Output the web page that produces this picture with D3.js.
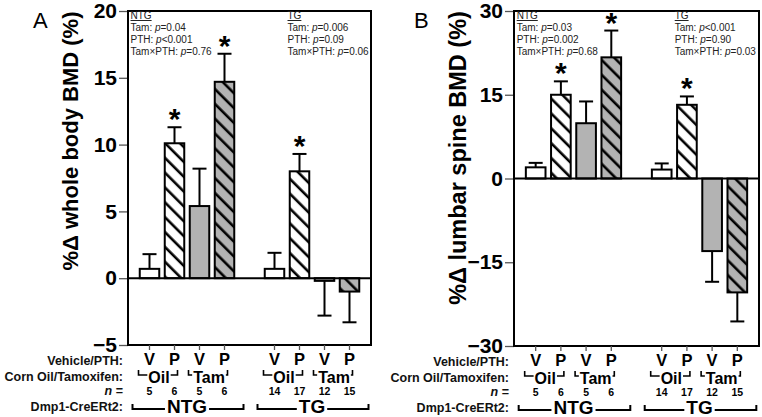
<!DOCTYPE html>
<html>
<head>
<meta charset="utf-8">
<script src="https://cdn.jsdelivr.net/npm/d3@7"></script>
<style>
  body { margin: 0; background: #fff; }
  svg { font-family: "Liberation Sans", Arial, sans-serif; }
</style>
</head>
<body>
<svg id="chart" width="762" height="417"></svg>
<script>
// bar slots (one empty slot between NTG and TG)
const slots = ["NTG-Oil-V", "NTG-Oil-P", "NTG-Tam-V", "NTG-Tam-P", "gap",
               "TG-Oil-V", "TG-Oil-P", "TG-Tam-V", "TG-Tam-P"];
const bars = slots.filter(s => s !== "gap");
const treatment = ["V", "P", "V", "P", "V", "P", "V", "P"];
const nCounts = [5, 6, 5, 6, 14, 17, 12, 15];
const oilTam = [["Oil", 0, 1], ["Tam", 2, 3], ["Oil", 4, 5], ["Tam", 6, 7]];
const genotype = [["NTG", 0, 3], ["TG", 4, 7]];

// whole body BMD (%) mean and error
const wholeMean = [0.7, 10.1, 5.4, 14.7, 0.7, 8.0, -0.2, -1.0];
const wholeErr  = [1.1, 1.2, 2.8, 2.1, 1.2, 1.3, 2.6, 2.3];
const wholeSig  = [0, 1, 0, 1, 0, 1, 0, 0];
const wholeTicks = [-5, 0, 5, 10, 15, 20];

// lumbar spine BMD (%) mean and error
const lumbarMean = [2.0, 15.0, 9.9, 21.7, 1.6, 13.2, -13.0, -20.4];
const lumbarErr  = [0.8, 2.4, 3.9, 4.8, 1.1, 1.5, 5.5, 5.2];
const lumbarSig  = [0, 1, 0, 1, 0, 1, 0, 0];
const lumbarTicks = [-30, -15, 0, 15, 30];

// stats text: [label, p value part]
const wholeNTG = [["Tam:", "=0.04"], ["PTH:", "<0.001"], ["Tam\u00d7PTH:", "=0.76"]];
const wholeTG  = [["Tam:", "=0.006"], ["PTH:", "=0.09"], ["Tam\u00d7PTH:", "=0.06"]];
const lumbarNTG = [["Tam:", "=0.03"], ["PTH:", "=0.002"], ["Tam\u00d7PTH:", "=0.68"]];
const lumbarTG  = [["Tam:", "<0.001"], ["PTH:", "=0.90"], ["Tam\u00d7PTH:", "=0.03"]];

const rowLabels = ["Vehicle/PTH:", "Corn Oil/Tamoxifen:", "n =", "Dmp1-CreERt2:"];

const svg = d3.select("#chart");

// hatch pattern ("\" stripes)
const defs = svg.append("defs");
["#fff", "#b3b3b3"].forEach((c, i) => {
  const p = defs.append("pattern")
    .attr("id", "hatch" + i)
    .attr("patternUnits", "userSpaceOnUse")
    .attr("width", 10.5).attr("height", 10.5)
    .attr("patternTransform", "rotate(-45)");
  p.append("rect").attr("width", 10.5).attr("height", 10.5).attr("fill", c);
  p.append("line").attr("x1", 5).attr("x2", 5).attr("y1", 0).attr("y2", 10.5)
    .attr("stroke", "#000").attr("stroke-width", 2.6);
});

function drawPanel(cfg) {
  const g = svg.append("g");
  const x = d3.scaleBand().domain(slots)
    .range([cfg.left, cfg.right]).paddingInner(0.22).paddingOuter(0.47);
  const y = d3.scaleLinear().domain(cfg.domain).range([cfg.bottom, cfg.top]);
  const cx = i => x(bars[i]) + x.bandwidth() / 2;

  // panel letter
  g.append("text").attr("x", cfg.letterX).attr("y", 28)
    .attr("font-size", 22).text(cfg.letter);

  // y axis
  const ax = g.append("g").attr("transform", `translate(${cfg.left},0)`)
    .call(d3.axisLeft(y).tickValues(cfg.ticks).tickSize(9).tickPadding(2));
  ax.select(".domain").remove();
  ax.selectAll(".tick line").attr("stroke", "#555").attr("stroke-width", 1.3);
  ax.selectAll(".tick text").attr("font-size", 21).attr("font-weight", "bold")
    .attr("fill", "#000").attr("font-family", "Liberation Sans, Arial, sans-serif");

  g.append("text")
    .attr("transform", `translate(${cfg.titleX},${cfg.titleY}) rotate(-90)`)
    .attr("text-anchor", "middle").attr("font-size", cfg.titleSize).attr("font-weight", "bold")
    .text(cfg.title);

  // error bars
  const eg = g.append("g").attr("stroke", "#000").attr("stroke-width", 2);
  cfg.mean.forEach((m, i) => {
    const end = m >= 0 ? m + cfg.err[i] : m - cfg.err[i];
    eg.append("line").attr("x1", cx(i)).attr("x2", cx(i)).attr("y1", y(m)).attr("y2", y(end));
    eg.append("line").attr("x1", cx(i) - 7).attr("x2", cx(i) + 7).attr("y1", y(end)).attr("y2", y(end));
    if (cfg.sig[i]) {
      g.append("text").attr("x", cx(i)).attr("y", y(end) + 2)
        .attr("text-anchor", "middle").attr("font-size", 30).attr("font-weight", "bold")
        .text("*");
    }
  });

  // bars
  g.selectAll("rect.bar").data(cfg.mean).enter().append("rect")
    .attr("class", "bar")
    .attr("x", (d, i) => x(bars[i]))
    .attr("width", x.bandwidth())
    .attr("y", d => y(Math.max(0, d)))
    .attr("height", d => Math.abs(y(d) - y(0)))
    .attr("fill", (d, i) => {
      const tam = bars[i].includes("Tam");
      if (treatment[i] === "P") return tam ? "url(#hatch1)" : "url(#hatch0)";
      return tam ? "#b3b3b3" : "#fff";
    })
    .attr("stroke", "#000").attr("stroke-width", 2);

  // zero line and frame
  g.append("line").attr("x1", cfg.left).attr("x2", cfg.right)
    .attr("y1", y(0)).attr("y2", y(0)).attr("stroke", "#000").attr("stroke-width", 2);
  g.append("rect").attr("x", cfg.left).attr("y", cfg.top)
    .attr("width", cfg.right - cfg.left).attr("height", cfg.bottom - cfg.top)
    .attr("fill", "none").attr("stroke", "#000").attr("stroke-width", 2);

  // stats notes
  [[cfg.notesNTG, "NTG", cx(0) - 19], [cfg.notesTG, "TG", cx(4) + 13]].forEach(([notes, head, nx]) => {
    const t = g.append("text").attr("font-size", 10).attr("fill", "#222");
    t.append("tspan").attr("x", nx).attr("y", cfg.top + 8).attr("text-decoration", "underline").text(head);
    notes.forEach((n, k) => {
      t.append("tspan").attr("x", nx).attr("y", cfg.top + 20 + 12 * k).text(n[0] + " ");
      t.append("tspan").attr("font-style", "italic").text("p");
      t.append("tspan").text(n[1]);
    });
  });

  // category rows under the plot
  const b = cfg.bottom;
  g.selectAll("line.xt").data(bars).enter().append("line")
    .attr("x1", (d, i) => cx(i)).attr("x2", (d, i) => cx(i))
    .attr("y1", b).attr("y2", b + 5).attr("stroke", "#555").attr("stroke-width", 1.3);
  g.selectAll("text.vp").data(treatment).enter().append("text")
    .attr("x", (d, i) => cx(i)).attr("y", b + 20)
    .attr("text-anchor", "middle").attr("font-size", 16.5).attr("font-weight", "bold").text(d => d);
  g.selectAll("text.nn").data(nCounts).enter().append("text")
    .attr("x", (d, i) => cx(i)).attr("y", b + 50)
    .attr("text-anchor", "middle").attr("font-size", 10.5).attr("font-weight", "bold").text(d => d);

  const br = g.append("g").attr("fill", "none").attr("stroke", "#000").attr("stroke-width", 1.6);
  oilTam.forEach(([lab, a, c]) => {
    const mid = (cx(a) + cx(c)) / 2 - 3;
    const t = g.append("text").attr("x", mid).attr("y", b + 38)
      .attr("text-anchor", "middle").attr("font-size", 16).attr("font-weight", "bold").text(lab);
    const w = t.node().getComputedTextLength() / 2 + 1;
    const l = cx(a) - 11, r = cx(c) + 3, yy = b + 30;
    br.append("path").attr("d", `M${l},${yy - 5}V${yy}H${mid - w}M${r},${yy - 5}V${yy}H${mid + w}`);
  });
  genotype.forEach(([lab, a, c]) => {
    const mid = (cx(a) + cx(c)) / 2;
    const t = g.append("text").attr("x", mid).attr("y", b + 68)
      .attr("text-anchor", "middle").attr("font-size", 19).attr("font-weight", "bold").text(lab);
    const w = t.node().getComputedTextLength() / 2 + 2;
    const l = cx(a) - 17, r = cx(c) + 19, yy = b + 64;
    br.append("path").attr("stroke-width", 2)
      .attr("d", `M${l},${yy - 5}V${yy}H${mid - w}M${r},${yy - 5}V${yy}H${mid + w}`);
  });

  // row labels
  const rx = cfg.left - 5;
  const rowY = [b + 20, b + 36, b + 50, b + 66];
  rowLabels.forEach((r, k) => {
    const t = g.append("text").attr("x", rx).attr("y", rowY[k])
      .attr("text-anchor", "end").attr("font-size", 12.5).attr("font-weight", "bold").attr("fill", "#111");
    if (r === "n =") {
      t.append("tspan").attr("font-style", "italic").text("n");
      t.append("tspan").text(" =");
    } else t.text(r);
  });
}

drawPanel({
  letter: "A", letterX: 33, left: 128, right: 371, top: 11, bottom: 345,
  domain: [-5, 20], ticks: wholeTicks, mean: wholeMean, err: wholeErr, sig: wholeSig,
  title: "%\u0394 whole body BMD (%)", titleX: 78, titleY: 141, titleSize: 22,
  notesNTG: wholeNTG, notesTG: wholeTG
});
drawPanel({
  letter: "B", letterX: 414, left: 514, right: 759, top: 11, bottom: 346,
  domain: [-30, 30], ticks: lumbarTicks, mean: lumbarMean, err: lumbarErr, sig: lumbarSig,
  title: "%\u0394 lumbar spine BMD (%)", titleX: 466, titleY: 158, titleSize: 23.5,
  notesNTG: lumbarNTG, notesTG: lumbarTG
});
</script>
</body>
</html>
